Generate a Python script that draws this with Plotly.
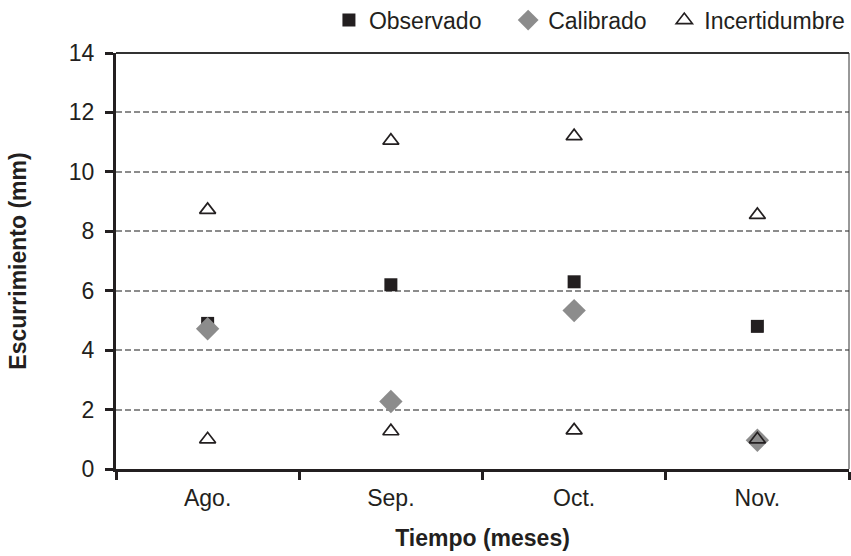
import plotly.graph_objects as go

meses = ["Ago.", "Sep.", "Oct.", "Nov."]
observado = [4.9, 6.2, 6.3, 4.8]
calibrado = [4.72, 2.27, 5.33, 0.97]
incert_sup = [8.72, 11.05, 11.2, 8.55]
incert_inf = [1.0, 1.27, 1.3, 1.0]
y_ticks = [0, 2, 4, 6, 8, 10, 12, 14]

FONT = "Liberation Sans, Arial, sans-serif"
DARK = "#231f20"
GRAY = "#8c8c8c"
FS = 23

fig = go.Figure()
fig.add_trace(go.Scatter(
    x=meses, y=observado, mode="markers", name="Observado", legend="legend",
    marker=dict(symbol="square", size=13, color=DARK, line=dict(width=0)),
))
fig.add_trace(go.Scatter(
    x=meses, y=calibrado, mode="markers", name="Calibrado", legend="legend2",
    marker=dict(symbol="diamond", size=18, color=GRAY, line=dict(width=0)),
))
fig.add_trace(go.Scatter(
    x=meses + meses, y=incert_sup + incert_inf, mode="markers", name="Incertidumbre",
    legend="legend3",
    marker=dict(symbol="triangle-up-open", size=14, color=DARK, line=dict(width=1.7, color=DARK)),
))

leg_common = dict(
    orientation="h", xanchor="left", yanchor="middle", y=1.079,
    font=dict(family=FONT, size=FS, color=DARK), itemwidth=30,
    bgcolor="rgba(0,0,0,0)",
)

fig.update_layout(
    width=851, height=556,
    margin=dict(l=116, r=2, t=53, b=87, autoexpand=False),
    paper_bgcolor="white", plot_bgcolor="white",
    font=dict(family=FONT, size=FS, color=DARK),
    showlegend=True,
    legend=dict(x=0.2905, **leg_common),
    legend2=dict(x=0.535, **leg_common),
    legend3=dict(x=0.748, **leg_common),
    xaxis=dict(
        type="category", categoryorder="array", categoryarray=meses,
        tickson="boundaries", ticks="outside", ticklen=8, tickwidth=2.5, tickcolor=DARK,
        showline=True, linecolor=DARK, linewidth=3, mirror=False,
        showgrid=False, zeroline=False, ticklabelstandoff=6,
        tickfont=dict(family=FONT, size=FS, color=DARK),
        title=dict(text="<b>Tiempo (meses)</b>", font=dict(family=FONT, size=FS, color=DARK), standoff=21),
        range=[-0.5, 3.5],
    ),
    yaxis=dict(
        range=[0, 14], tickvals=y_ticks, ticktext=[str(v) for v in y_ticks],
        ticks="outside", ticklen=8, tickwidth=2.5, tickcolor=DARK,
        showline=True, linecolor=DARK, linewidth=3, ticklabelstandoff=6,
        showgrid=True, gridcolor=GRAY, gridwidth=2, griddash="6px,3px",
        zeroline=False,
        tickfont=dict(family=FONT, size=FS, color=DARK),
        title=dict(text="<b>Escurrimiento (mm)</b>", font=dict(family=FONT, size=FS, color=DARK), standoff=36),
    ),
)

# top and right borders of the plot area
fig.add_shape(type="line", xref="paper", yref="paper", x0=0, x1=1, y0=1, y1=1,
              line=dict(color="#333333", width=2))
fig.add_shape(type="line", xref="paper", yref="paper", x0=1, x1=1, y0=0, y1=1,
              line=dict(color="#333333", width=1))

fig.write_html("out.html", config={"displayModeBar": False},
               post_script="document.body.style.margin='0';")
